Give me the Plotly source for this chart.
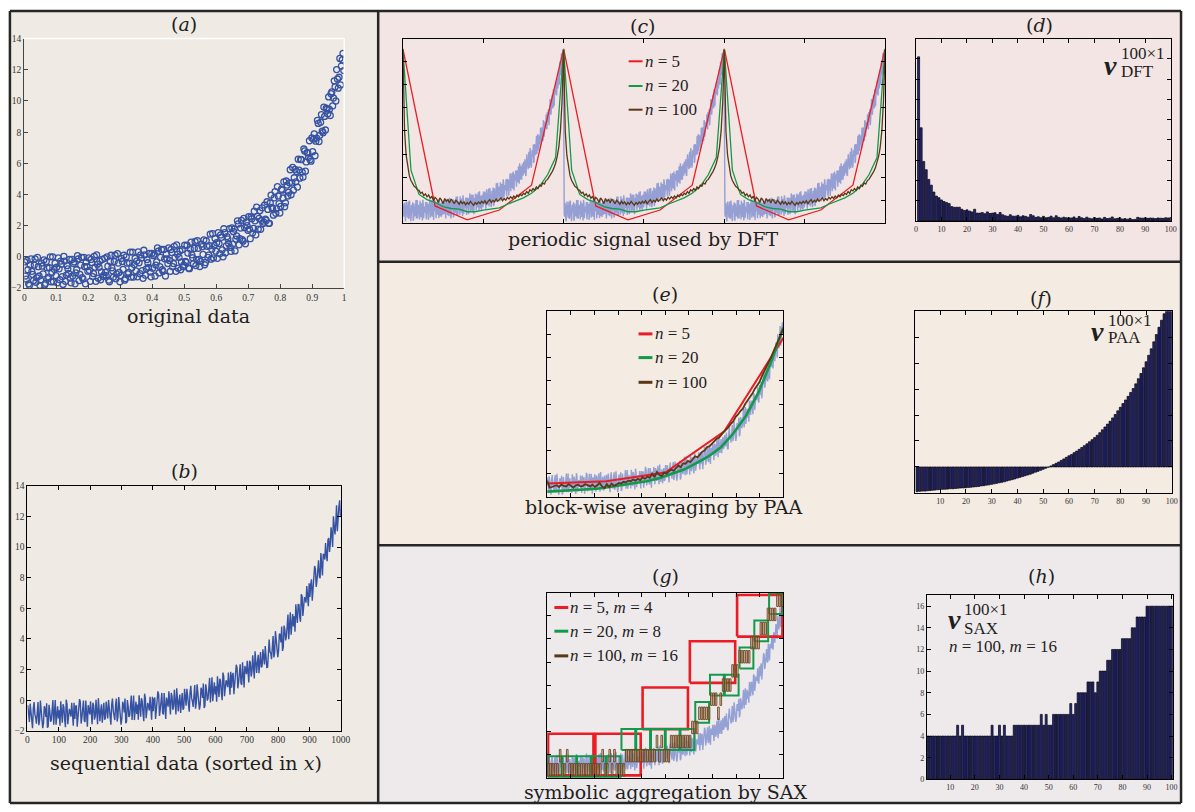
import plotly.graph_objects as go

# ---------------- data ----------------
# sequential (sorted in x) data: two interleaved sets of 200 samples over x in [0, 1]
seq_y_a = [
    -0.32, -1.42, -0.82, -1.82, -0.12, -1.12, -0.52, -1.62, -0.02, -1.22,
    -1.49, -0.59, -0.19, -1.69, -0.69, -1.29, 0.01, -0.99, -1.59, -0.39,
    -0.66, -0.06, -1.46, -0.46, -1.76, -0.26, -1.16, -0.76, -0.16, -1.66,
    -1.22, -0.32, -1.02, 0.08, -1.52, -0.52, -1.32, -0.02, -1.72, -0.62,
    -0.06, -1.56, -0.36, -1.06, -0.66, 0.14, -1.36, -0.26, -0.96, -1.26,
    -0.09, -1.19, -0.59, -1.59, 0.11, -0.89, -0.29, -1.39, 0.21, -0.99,
    -1.19, -0.29, 0.11, -1.39, -0.39, -0.99, 0.31, -0.69, -1.29, -0.09,
    -0.27, 0.33, -1.07, -0.07, -1.37, 0.13, -0.77, -0.37, 0.23, -1.27,
    -0.72, 0.18, -0.52, 0.58, -1.02, -0.02, -0.82, 0.48, -1.22, -0.12,
    0.58, -0.92, 0.28, -0.42, -0.02, 0.78, -0.72, 0.38, -0.32, -0.62,
    0.75, -0.35, 0.25, -0.75, 0.95, -0.05, 0.55, -0.55, 1.05, -0.15,
    -0.28, 0.66, 1.10, -0.36, 0.68, 0.12, 1.46, 0.50, -0.06, 1.18,
    0.91, 1.56, 0.21, 1.26, 0.01, 1.56, 0.71, 1.16, 1.81, 0.36,
    0.82, 1.79, 1.15, 2.32, 0.78, 1.85, 1.11, 2.48, 0.84, 2.01,
    2.58, 1.17, 2.45, 1.83, 2.32, 3.20, 1.78, 2.97, 2.35, 2.14,
    3.33, 2.34, 3.05, 2.16, 3.97, 3.08, 3.79, 2.80, 4.51, 3.42,
    3.24, 4.28, 4.82, 3.47, 4.61, 4.15, 5.59, 4.74, 4.28, 5.62,
    5.48, 6.27, 5.05, 6.24, 5.12, 6.80, 6.09, 6.67, 7.45, 6.14,
    6.75, 7.89, 7.42, 8.76, 7.40, 8.63, 8.07, 9.61, 8.14, 9.48,
    10.26, 9.07, 10.58, 10.19, 10.90, 12.01, 10.82, 12.73, 12.24, 13.05,
]
seq_y_b = [
    -1.22, -0.22, -1.72, -0.52, -0.92, -1.52, -0.12, -1.32, -0.62, -1.82,
    -0.39, -1.09, -1.79, -0.29, -1.39, -0.69, -1.59, 0.01, -0.79, -1.19,
    -1.66, -0.76, -0.26, -1.26, 0.04, -1.56, -0.56, -1.06, -1.36, -0.16,
    -0.42, -1.72, -0.82, -0.12, -1.12, -0.02, -1.42, -0.62, -0.32, -0.92,
    -0.86, -0.16, -1.26, 0.04, -1.56, -0.46, -0.66, -1.46, -0.16, -1.16,
    -0.99, 0.01, -1.49, -0.29, -0.69, -1.29, 0.11, -1.09, -0.39, -1.59,
    -0.09, -0.79, -1.49, 0.01, -1.09, -0.39, -1.29, 0.31, -0.49, -0.89,
    -1.27, -0.37, 0.13, -0.87, 0.43, -1.17, -0.17, -0.67, -0.97, 0.23,
    0.08, -1.22, -0.32, 0.38, -0.62, 0.48, -0.92, -0.12, 0.18, -0.42,
    -0.22, 0.48, -0.62, 0.68, -0.92, 0.18, -0.02, -0.82, 0.48, -0.52,
    -0.28, 0.75, -0.72, 0.51, 0.14, -0.43, 1.00, -0.17, 0.56, -0.61,
    0.82, 0.16, -0.50, 1.04, -0.02, 0.72, -0.14, 1.50, 0.74, 0.38,
    -0.09, 0.86, 1.41, 0.46, 1.81, 0.26, 1.31, 0.86, 0.61, 1.86,
    1.62, 0.39, 1.35, 2.12, 1.18, 2.35, 1.01, 1.88, 2.24, 1.71,
    1.78, 2.57, 1.55, 2.93, 1.42, 2.60, 2.48, 1.77, 3.15, 2.24,
    2.43, 3.54, 2.15, 3.46, 3.17, 2.68, 4.19, 3.10, 3.91, 2.82,
    4.34, 3.78, 3.22, 4.87, 3.91, 4.75, 3.99, 5.74, 5.08, 4.82,
    4.48, 5.57, 6.25, 5.44, 6.92, 5.50, 6.69, 6.37, 6.25, 7.64,
    7.55, 6.49, 7.62, 8.56, 7.80, 9.13, 7.97, 9.01, 9.54, 9.18,
    9.46, 10.47, 9.68, 11.29, 10.00, 11.41, 11.52, 11.03, 12.64, 11.95,
]

# (c) DFT reconstructions, one period each
dft_n5 = [13.1, -0.5, -1.7, -0.85, 1.3]
dft_n20 = [13.1, 2.6, 0.5, 0.05, -0.2, -0.55, -0.72, -0.77, -1.0, -1.0,
           -0.86, -0.78, -0.66, -0.35, -0.05, 0.2, 0.6, 1.2, 2.2, 3.7]
dft_n100 = [
    13.0, 6.0, 3.9, 2.8, 2.1, 1.7, 1.4, 1.2, 1.1, 0.9,
    0.85, 0.6, 0.7, 0.4, 0.55, 0.3, 0.45, 0.15, 0.35, -0.05,
    0.25, 0.1, -0.2, 0.2, 0.0, -0.3, 0.15, -0.1, 0.05, -0.25,
    0.1, -0.15, -0.3, 0.0, -0.2, -0.35, -0.1, -0.3, -0.15, -0.4,
    -0.2, -0.35, -0.1, -0.3, -0.45, -0.2, -0.35, -0.15, -0.3, -0.1,
    -0.25, -0.05, -0.3, -0.1, 0.05, -0.2, 0.0, -0.15, 0.1, -0.1,
    0.05, 0.2, -0.05, 0.15, 0.0, 0.25, 0.1, 0.3, 0.15, 0.35,
    0.2, 0.45, 0.3, 0.5, 0.4, 0.6, 0.5, 0.75, 0.6, 0.9,
    0.8, 1.0, 0.85, 1.15, 1.0, 1.3, 1.2, 1.5, 1.4, 1.7,
    1.8, 2.0, 2.2, 2.5, 2.8, 3.2, 3.8, 4.6, 6.0, 8.5,
]

# (d) DFT coefficient magnitudes
v_dft = [
    8.1, 4.6, 2.94, 2.53, 2.05, 1.77, 1.43, 1.23, 1.15, 1.04,
    0.96, 0.91, 0.86, 0.71, 0.68, 0.68, 0.68, 0.58, 0.52, 0.55,
    0.49, 0.45, 0.58, 0.39, 0.39, 0.42, 0.36, 0.45, 0.37, 0.39,
    0.41, 0.32, 0.42, 0.31, 0.26, 0.23, 0.31, 0.24, 0.24, 0.28,
    0.21, 0.26, 0.23, 0.19, 0.32, 0.26, 0.18, 0.21, 0.16, 0.23,
    0.16, 0.18, 0.24, 0.16, 0.26, 0.18, 0.15, 0.19, 0.16, 0.16,
    0.15, 0.2, 0.13, 0.22, 0.16, 0.12, 0.19, 0.14, 0.11, 0.17,
    0.13, 0.15, 0.1, 0.18, 0.12, 0.14, 0.2, 0.11, 0.13, 0.16,
    0.1, 0.12, 0.09, 0.13, 0.07, 0.08, 0.18, 0.15, 0.14, 0.16,
    0.13, 0.15, 0.14, 0.12, 0.15, 0.14, 0.13, 0.16, 0.15, 0.17,
]

# (e) PAA approximations
paa_n5 = [-0.85, -0.65, 0.1, 3.65, 11.7]
paa_n20 = [-1.55, -1.5, -1.4, -1.35, -1.3, -1.15, -1.0, -0.85, -0.65, -0.4,
           -0.05, 0.35, 0.9, 1.5, 2.3, 3.5, 5.0, 7.0, 9.6, 12.6]
paa_n100 = [
    -0.6, -1.2, -1.15, -1.1, -1.0, -1.15, -0.95, -1.05, -1.1, -0.9,
    -1.05, -1.2, -1.0, -0.95, -1.1, -1.05, -0.9, -1.0, -1.1, -0.95,
    -1.15, -1.0, -0.8, -1.1, -1.25, -0.9, -1.15, -0.85, -1.05, -0.95,
    -0.8, -0.85, -0.7, -0.75, -0.6, -0.65, -0.5, -0.6, -0.45, -0.55,
    -0.3, -0.45, -0.25, -0.35, 0.0, -0.3, 0.15, -0.1, -0.2, 0.1,
    0.0, 0.2, 0.35, 0.25, 0.5, 0.7, 0.55, 0.9, 0.85, 1.1,
    1.0, 1.3, 1.5, 1.4, 1.7, 1.9, 2.0, 2.3, 2.35, 2.6,
    2.8, 3.0, 3.1, 3.4, 3.6, 3.8, 4.0, 4.3, 4.5, 4.9,
    5.1, 5.4, 5.6, 6.0, 6.3, 6.5, 6.9, 7.3, 7.6, 7.9,
    8.4, 8.8, 9.2, 9.7, 10.1, 10.6, 11.1, 11.6, 12.1, 12.5,
]

# (f) PAA vector
v_paa = [
    -0.95, -0.94, -0.93, -0.93, -0.92, -0.91, -0.90, -0.89, -0.88, -0.87,
    -0.86, -0.86, -0.85, -0.84, -0.84, -0.83, -0.82, -0.81, -0.81, -0.80,
    -0.79, -0.78, -0.77, -0.76, -0.75, -0.73, -0.72, -0.70, -0.69, -0.67,
    -0.65, -0.63, -0.61, -0.59, -0.57, -0.54, -0.51, -0.49, -0.46, -0.43,
    -0.40, -0.37, -0.34, -0.31, -0.28, -0.24, -0.20, -0.17, -0.13, -0.09,
    -0.05, -0.01, 0.04, 0.09, 0.14, 0.19, 0.25, 0.31, 0.37, 0.43,
    0.48, 0.55, 0.61, 0.68, 0.75, 0.82, 0.89, 0.97, 1.05, 1.13,
    1.22, 1.32, 1.43, 1.54, 1.65, 1.76, 1.89, 2.02, 2.16, 2.30,
    2.44, 2.58, 2.72, 2.87, 3.02, 3.20, 3.40, 3.60, 3.82, 4.05,
    4.30, 4.55, 4.82, 5.10, 5.38, 5.65, 5.90, 6.20, 6.50, 6.80,
]

# (g) SAX symbols
sax_red = [1, 1, 2, 3, 4]
sax_green = [1, 1, 1, 1, 1, 2, 2, 2, 2, 2, 3, 4, 4, 5, 6, 7]
sax_brown = [
    4, 4, 4, 4, 4, 5, 4, 4, 5, 4,
    4, 4, 4, 4, 4, 4, 4, 4, 4, 4,
    4, 4, 4, 5, 4, 4, 5, 4, 5, 4,
    4, 4, 4, 5, 5, 5, 5, 5, 5, 5,
    5, 5, 5, 5, 5, 5, 6, 5, 6, 5,
    5, 5, 6, 6, 6, 6, 6, 6, 6, 6,
    6, 7, 7, 7, 8, 8, 8, 8, 8, 9,
    9, 9, 8, 9, 10, 10, 10, 10, 11, 11,
    11, 12, 12, 12, 12, 12, 13, 13, 13, 13,
    14, 14, 14, 15, 15, 15, 15, 16, 16, 16,
]

# (h) SAX vector
v_sax = [
    4, 4, 4, 4, 4, 4, 4, 4, 4, 4,
    4, 4, 5, 4, 5, 4, 4, 4, 4, 4,
    4, 4, 4, 4, 4, 4, 5, 4, 4, 5,
    4, 5, 4, 4, 4, 5, 5, 5, 5, 5,
    5, 5, 5, 5, 5, 5, 6, 5, 6, 5,
    5, 6, 6, 6, 6, 6, 6, 6, 7, 6,
    7, 8, 8, 8, 8, 9, 9, 9, 8, 9,
    10, 10, 10, 11, 11, 12, 12, 12, 12, 13,
    13, 13, 13, 14, 14, 15, 15, 15, 15, 16,
    16, 16, 16, 16, 16, 16, 16, 16, 16, 16,
]

legend_c = ["<i>n</i> = 5", "<i>n</i> = 20", "<i>n</i> = 100"]
legend_g = ["<i>n</i> = 5, <i>m</i> = 4", "<i>n</i> = 20, <i>m</i> = 8", "<i>n</i> = 100, <i>m</i> = 16"]

# ---------------- styling / layout ----------------
W, H = 1195, 812
def px(x): return x / W
def py(y): return 1 - y / H

BLUE = '#3652a3'
LIGHT = 'rgba(122,140,206,0.78)'
RED = '#ec1c24'
GREEN = '#12994a'
BROWN = '#5a3815'
BAR = '#26267e'
SERIF = 'DejaVu Serif'
LSERIF = 'Liberation Serif'

seq_y = []
for a, b in zip(seq_y_a, seq_y_b):
    seq_y += [a, b]
N = len(seq_y)
seq_x = [(i + 0.5) / N for i in range(N)]

fig = go.Figure()

def add(tr, k):
    tr.update(xaxis='x' if k == 1 else f'x{k}', yaxis='y' if k == 1 else f'y{k}',
              showlegend=False, hoverinfo='skip')
    fig.add_trace(tr)

def periodic(vals, periods=3):
    n = len(vals)
    xs = [p + k / n for p in range(periods) for k in range(n)] + [float(periods)]
    ys = vals * periods + [vals[0]]
    return xs, ys

def spread(vals):
    n = len(vals)
    return [k / (n - 1) for k in range(n)], vals

def boxes(levels, base, step, height, pad):
    n = len(levels)
    xs, ys = [], []
    for k, L in enumerate(levels):
        x0, x1 = k / n + pad, (k + 1) / n - pad
        y0 = base + step * (L - 1)
        y1 = y0 + height
        xs += [x0, x1, x1, x0, x0, None]
        ys += [y0, y0, y1, y1, y0, None]
    return xs, ys

# (a) scatter
add(go.Scatter(x=seq_x, y=seq_y, mode='markers',
               marker=dict(symbol='circle-open', size=6, color=BLUE, line=dict(width=1.3))), 1)
# (b) sequential line
add(go.Scatter(x=[1000 * v for v in seq_x], y=seq_y, mode='lines',
               line=dict(color=BLUE, width=1.4)), 2)
# (c) periodic signal + DFT reconstructions
add(go.Scatter(x=[p + v for p in range(3) for v in seq_x], y=seq_y * 3, mode='lines',
               line=dict(color=LIGHT, width=1.4)), 3)
for vals, col in ((dft_n5, RED), (dft_n20, GREEN), (dft_n100, BROWN)):
    xs, ys = periodic(vals)
    add(go.Scatter(x=xs, y=ys, mode='lines', line=dict(color=col, width=1.3)), 3)
# (d) DFT bars
add(go.Bar(x=list(range(1, len(v_dft) + 1)), y=v_dft, width=0.8,
           marker=dict(color=BAR, line=dict(color='black', width=0.7))), 4)
# (e) PAA
add(go.Scatter(x=seq_x, y=seq_y, mode='lines', line=dict(color=LIGHT, width=1.4)), 5)
for vals, col, w in ((paa_n5, RED, 2), (paa_n20, GREEN, 2.6), (paa_n100, BROWN, 1.8)):
    xs, ys = spread(vals)
    add(go.Scatter(x=xs, y=ys, mode='lines', line=dict(color=col, width=w)), 5)
# (f) PAA bars
add(go.Bar(x=list(range(1, len(v_paa) + 1)), y=v_paa, width=0.8,
           marker=dict(color=BAR, line=dict(color='black', width=0.7))), 6)
# (g) SAX boxes
add(go.Scatter(x=seq_x, y=seq_y, mode='lines', line=dict(color=LIGHT, width=1.4)), 7)
xs, ys = boxes(sax_red, -1.8, 4.0, 3.6, 0.004)
add(go.Scatter(x=xs, y=ys, mode='lines', line=dict(color=RED, width=2.6)), 7)
xs, ys = boxes(sax_green, -1.95, 2.35, 1.8, 0.002)
add(go.Scatter(x=xs, y=ys, mode='lines', line=dict(color=GREEN, width=2)), 7)
xs, ys = boxes(sax_brown, -5.526, 1.222, 1.08, 0.0015)
add(go.Scatter(x=xs, y=ys, mode='lines', fill='toself', fillcolor='rgba(205,170,125,0.5)',
               line=dict(color='#6b4420', width=0.9)), 7)
# (h) SAX bars
add(go.Bar(x=list(range(1, len(v_sax) + 1)), y=v_sax, width=0.8,
           marker=dict(color=BAR, line=dict(color='black', width=0.7))), 8)


def axis(domain, rng, anchor, labels=False, dtick=None, tick0=None, tickvals=None,
         mirror='ticks', color='black', size=9):
    d = dict(domain=domain, range=rng, anchor=anchor, showgrid=False, zeroline=False,
             showline=True, linecolor=color, linewidth=1, mirror=mirror, ticks='inside',
             ticklen=4, tickwidth=1, tickcolor=color, showticklabels=labels,
             tickfont=dict(family=LSERIF, size=size, color='#333333'), fixedrange=True)
    if tickvals is not None:
        d['tickvals'] = tickvals
    else:
        d['dtick'] = dtick
        d['tick0'] = tick0 if tick0 is not None else 0
    return d

dom = {
    1: ([px(22.5), px(345.7)], [py(286.7), py(34)]),
    2: ([px(25.7), px(342.3)], [py(735), py(486.7)]),
    3: ([px(405), px(892)], [py(221), py(34)]),
    4: ([px(923.3), px(1180.7)], [py(218.7), py(34)]),
    5: ([px(550.7), px(789.3)], [py(498), py(310)]),
    6: ([px(922.3), px(1181.7)], [py(494), py(310)]),
    7: ([px(550.7), px(789.3)], [py(782.3), py(595)]),
    8: ([px(934.3), px(1182.7)], [py(784), py(597.7)]),
}
ten_to_100 = list(range(10, 101, 10))
lay = {}
lay['xaxis'] = axis(dom[1][0], [0, 1], 'y', True, 0.1, mirror=False, color='#444', size=9.5)
lay['yaxis'] = axis(dom[1][1], [-2, 14], 'x', True, 2, mirror=False, color='#444', size=9.5)
lay['xaxis2'] = axis(dom[2][0], [0, 1000], 'y2', True, 100, size=9.5)
lay['yaxis2'] = axis(dom[2][1], [-2, 14], 'x2', True, 2, size=9.5)
lay['xaxis3'] = axis(dom[3][0], [0, 3], 'y3', False, 0.5)
lay['yaxis3'] = axis(dom[3][1], [-2, 14], 'x3', False, 2)
lay['xaxis4'] = axis(dom[4][0], [0, 100], 'y4', True, 10, size=8)
lay['yaxis4'] = axis(dom[4][1], [0, 9], 'x4', False, 1)
lay['xaxis5'] = axis(dom[5][0], [0, 1], 'y5', False, 0.1)
lay['yaxis5'] = axis(dom[5][1], [-2, 14], 'x5', False, 2)
lay['xaxis6'] = axis(dom[6][0], [0.2, 100], 'y6', True, tickvals=ten_to_100, size=8)
lay['yaxis6'] = axis(dom[6][1], [-1, 6], 'x6', False, 1)
lay['xaxis7'] = axis(dom[7][0], [0, 1], 'y7', False, 0.1)
lay['yaxis7'] = axis(dom[7][1], [-2, 14], 'x7', False, 2)
lay['xaxis8'] = axis(dom[8][0], [0.5, 100.5], 'y8', True, tickvals=ten_to_100, size=8)
lay['yaxis8'] = axis(dom[8][1], [0, 17], 'x8', True, tickvals=list(range(0, 17, 2)), size=8)

fig.update_layout(width=W, height=H, autosize=False, margin=dict(l=0, r=0, t=0, b=0),
                  paper_bgcolor='white', plot_bgcolor='rgba(0,0,0,0)', showlegend=False,
                  **lay)

# panel backgrounds and frames
shapes = []
def rect(x0, y0, x1, y1, fill):
    shapes.append(dict(type='rect', xref='paper', yref='paper', x0=px(x0), x1=px(x1),
                       y0=py(y1), y1=py(y0), fillcolor=fill, line=dict(width=0), layer='below'))
def pline(x0, y0, x1, y1, color='#262626', width=2.5, layer='above'):
    shapes.append(dict(type='line', xref='paper', yref='paper', x0=px(x0), x1=px(x1),
                       y0=py(y0), y1=py(y1), line=dict(color=color, width=width), layer=layer))
rect(8, 6, 380, 808, '#efebe4')
rect(380, 6, 1191, 260, '#f3e5e4')
rect(380, 260, 1191, 547, '#f4ebe2')
rect(380, 547, 1191, 808, '#eeeaec')
pline(8, 6, 1191, 6); pline(8, 808, 1191, 808)
pline(8, 6, 8, 808); pline(1191, 6, 1191, 808)
pline(380, 6, 380, 808)
pline(380, 260, 1191, 260); pline(380, 547, 1191, 547)
# white top/right frame of panel (a)
shapes.append(dict(type='line', xref='x domain', yref='y domain', x0=0, x1=1, y0=1, y1=1,
                   line=dict(color='white', width=1.5)))
shapes.append(dict(type='line', xref='x domain', yref='y domain', x0=1, x1=1, y0=0, y1=1,
                   line=dict(color='white', width=1.5)))

# manual legends
def legend(x0, ys, texts, colors, width, tx, size=17):
    for y, t, c in zip(ys, texts, colors):
        pline(x0, y, x0 + 14, y, color=c, width=width)
        fig.add_annotation(x=px(tx), y=py(y), xref='paper', yref='paper', text=t,
                           showarrow=False, xanchor='left', yanchor='middle',
                           font=dict(family=LSERIF, size=size, color='#1e1e1e'))
legend(633, [57, 82, 106], legend_c, [RED, GREEN, BROWN], 2, 648)
legend(643, [333, 357, 382], legend_c, [RED, GREEN, BROWN], 3, 658)
legend(558, [610, 634, 659], legend_g, [RED, GREEN, BROWN], 3, 572)
fig.update_layout(shapes=shapes)

def text(x, y, s, size, family=SERIF, xanchor='center', color='#1e1e1e'):
    fig.add_annotation(x=px(x), y=py(y), xref='paper', yref='paper', text=s, showarrow=False,
                       xanchor=xanchor, yanchor='middle',
                       font=dict(family=family, size=size, color=color))

for (x, y, s) in [(184, 19, '(<i>a</i>)'), (184, 472, '(<i>b</i>)'), (648, 21, '(<i>c</i>)'),
                  (1048, 20, '(<i>d</i>)'), (670, 293, '(<i>e</i>)'), (1050, 297, '(<i>f</i>)'),
                  (670, 578, '(<i>g</i>)'), (1050, 578, '(<i>h</i>)')]:
    text(x, y, s, 19)

text(188, 315, 'original data', 19)
text(186, 767, 'sequential data (sorted in <i>x</i>)', 19)
text(648, 237, 'periodic signal used by DFT', 19)
text(668, 508, 'block-wise averaging by PAA', 19)
text(671, 797, 'symbolic aggregation by SAX', 19)

# vector labels
for (vx, vy, supx, supy, sub, suby) in [(1120, 61, 1128, 49, 'DFT', 67),
                                         (1107, 331, 1115, 319, 'PAA', 337),
                                         (962, 622, 970, 612, 'SAX', 631)]:
    text(vx, vy, '<b><i>v</i></b>', 28, family=LSERIF)
    text(supx, supy, '100×1', 17, family=LSERIF, xanchor='left')
    text(supx, suby, sub, 17, family=LSERIF, xanchor='left')
text(955, 650, '<i>n</i> = 100, <i>m</i> = 16', 17, family=LSERIF, xanchor='left')

fig.write_html('out.html', config={'displayModeBar': False},
               post_script="document.body.style.margin='0px';"
                           "document.body.style.padding='0px';"
                           "document.documentElement.style.overflow='hidden';")
